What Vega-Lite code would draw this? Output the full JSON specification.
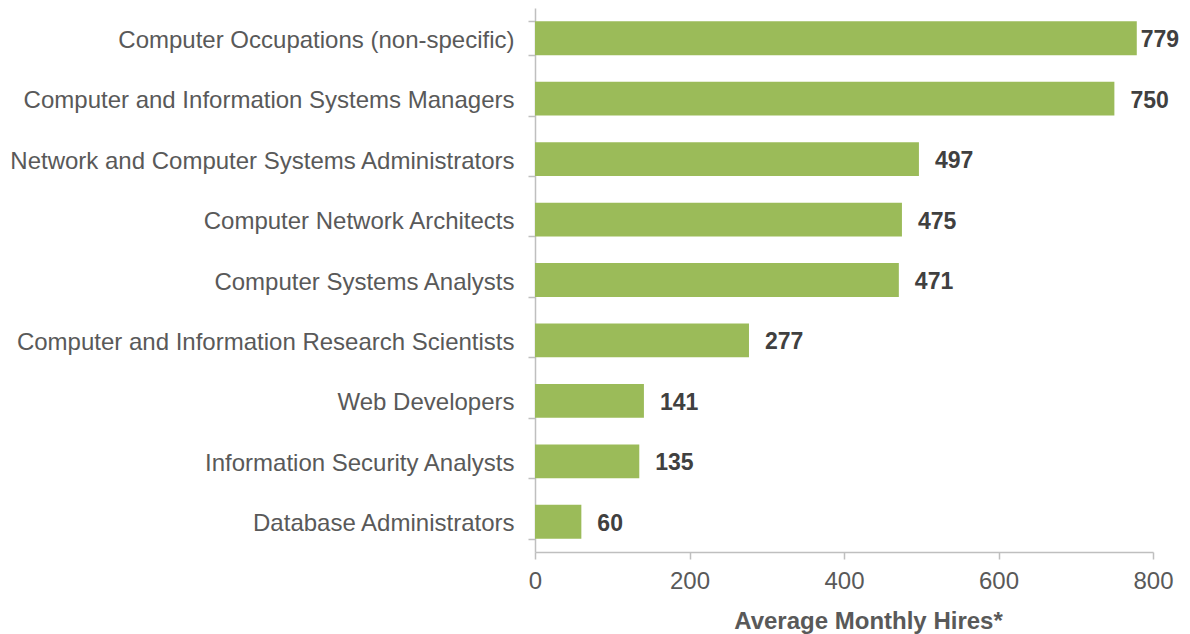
{
  "$schema": "https://vega.github.io/schema/vega-lite/v6.json",
  "autosize": {"type": "none"},
  "padding": {"left": 535, "top": 8, "right": 37, "bottom": 82},
  "width": 618,
  "height": 544,
  "background": "white",
  "config": {
    "view": {"stroke": null},
    "font": "Liberation Sans",
    "axis": {"labelFont": "Liberation Sans", "titleFont": "Liberation Sans"}
  },
  "data": {
    "values": [
      {"occupation": "Computer Occupations (non-specific)", "hires": 779},
      {"occupation": "Computer and Information Systems Managers", "hires": 750},
      {"occupation": "Network and Computer Systems Administrators", "hires": 497},
      {"occupation": "Computer Network Architects", "hires": 475},
      {"occupation": "Computer Systems Analysts", "hires": 471},
      {"occupation": "Computer and Information Research Scientists", "hires": 277},
      {"occupation": "Web Developers", "hires": 141},
      {"occupation": "Information Security Analysts", "hires": 135},
      {"occupation": "Database Administrators", "hires": 60}
    ]
  },
  "encoding": {
    "y": {
      "field": "occupation",
      "type": "nominal",
      "sort": [
        "Computer Occupations (non-specific)",
        "Computer and Information Systems Managers",
        "Network and Computer Systems Administrators",
        "Computer Network Architects",
        "Computer Systems Analysts",
        "Computer and Information Research Scientists",
        "Web Developers",
        "Information Security Analysts",
        "Database Administrators"
      ],
      "scale": {"paddingInner": 0.44, "paddingOuter": 0.22},
      "axis": {
        "title": null, "orient": "left", "ticks": true, "tickBand": "extent",
        "tickColor": "#BFBFBF", "tickWidth": 1.5, "tickSize": 7,
        "domain": true, "domainColor": "#BFBFBF", "domainWidth": 1.5,
        "labelFontSize": 24, "labelColor": "#595959", "labelPadding": 14, "labelLimit": 700,
        "labelOffset": 2
      }
    },
    "x": {
      "field": "hires",
      "type": "quantitative",
      "scale": {"domain": [0, 800], "nice": false},
      "axis": {
        "title": "Average Monthly Hires*", "values": [0, 200, 400, 600, 800],
        "grid": false, "domainColor": "#BFBFBF", "domainWidth": 1.5,
        "tickColor": "#BFBFBF", "tickWidth": 1.5, "tickSize": 7,
        "labelFlush": false,
        "labelFontSize": 24, "labelColor": "#595959", "labelPadding": 10,
        "titleFontSize": 24, "titleFontWeight": "bold", "titleColor": "#595959",
        "titlePadding": 16, "titleX": 333, "titleAnchor": "middle"
      }
    }
  },
  "layer": [
    {
      "mark": {"type": "bar", "color": "#9BBB59"}
    },
    {
      "transform": [{"filter": "datum.hires < 779"}],
      "mark": {"type": "text", "align": "left", "baseline": "middle", "dx": 16, "dy": 2, "fontSize": 23, "fontWeight": "bold", "color": "#404040"},
      "encoding": {
        "text": {"field": "hires", "type": "quantitative"}
      }
    },
    {
      "transform": [{"filter": "datum.hires >= 779"}],
      "mark": {"type": "text", "align": "left", "baseline": "middle", "dx": 4, "dy": 2, "fontSize": 23, "fontWeight": "bold", "color": "#404040"},
      "encoding": {
        "text": {"field": "hires", "type": "quantitative"}
      }
    }
  ]
}
